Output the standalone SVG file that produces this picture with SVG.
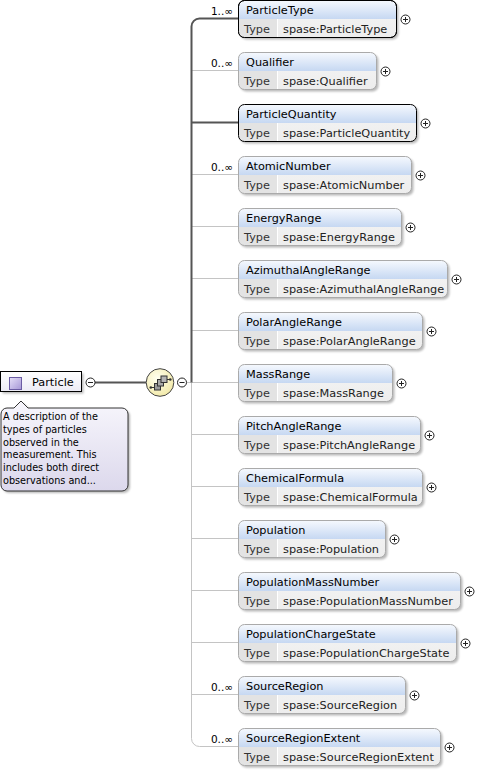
<svg xmlns="http://www.w3.org/2000/svg" xmlns:xlink="http://www.w3.org/1999/xlink" width="479" height="772" viewBox="0 0 479 772">
<style>
text{font-family:"DejaVu Sans","Liberation Sans",sans-serif;}
.nm{font-size:11.3px;fill:#000;}
.tp{font-size:11.3px;fill:#333;}
.val{font-size:11.3px;fill:#222;}
.card{font-size:10.5px;fill:#000;text-anchor:end;}
.tip{font-size:9.7px;fill:#000;}
.box{fill:url(#boxg);stroke-width:1;}
.req{stroke:#000;}
.opt{stroke:#aaa;}
.shadow{fill:#000;opacity:.28;filter:url(#blur);}
.tcell{fill:#e3e3e3;}
.div{stroke:#fff;stroke-width:1;}
.pm{fill:#fff;stroke:#222;stroke-width:1;}
.pml{stroke:#222;stroke-width:1;}
.thick{fill:none;stroke:#555;stroke-width:2;}
.thin{fill:none;stroke:#c4c4c4;stroke-width:1;}
</style>
<defs>
<linearGradient id="boxg" x1="0" y1="0" x2="0" y2="1">
<stop offset="0" stop-color="#f6f9fe"/>
<stop offset="0.5" stop-color="#c6d8f2"/>
<stop offset="0.5" stop-color="#f1f1f1"/>
<stop offset="1" stop-color="#ededed"/>
</linearGradient>
<linearGradient id="tipg" x1="0" y1="0" x2="0" y2="1">
<stop offset="0" stop-color="#f7f6fc"/>
<stop offset="1" stop-color="#dcd8ec"/>
</linearGradient>
<linearGradient id="partg" x1="0" y1="0" x2="0" y2="1">
<stop offset="0" stop-color="#ffffff"/>
<stop offset="1" stop-color="#ecebf5"/>
</linearGradient>
<linearGradient id="icong" x1="0" y1="0" x2="1" y2="1">
<stop offset="0" stop-color="#e6e0f8"/>
<stop offset="1" stop-color="#a596d6"/>
</linearGradient>
<radialGradient id="seqg" cx="0.4" cy="0.35" r="0.7">
<stop offset="0" stop-color="#fffff0"/>
<stop offset="1" stop-color="#f2e9a6"/>
</radialGradient>
<filter id="blur" x="-10%" y="-10%" width="130%" height="140%"><feGaussianBlur stdDeviation="1"/></filter>
<path id="typecell" class="tcell" d="M0.5,19 H39.5 V37.5 H6.5 A6,6 0 0 1 0.5,31.5 Z"/>
<g id="plus"><circle class="pm" cx="0" cy="0" r="4.5"/><path class="pml" d="M-2.5,0 H2.5 M0,-2.5 V2.5"/></g>
<g id="minus"><circle class="pm" cx="0" cy="0" r="4.5"/><path class="pml" d="M-2.5,0 H2.5"/></g>
</defs>

<g id="connectors">
<path class="thin" d="M191.5,382.5 V738.5 A8,8 0 0 0 199.5,746.5 H238"/>
<path class="thin" d="M191.5,70.5 H238 M191.5,174.5 H238 M191.5,226.5 H238 M191.5,278.5 H238 M191.5,330.5 H238 M191.5,382.5 H238 M191.5,434.5 H238 M191.5,486.5 H238 M191.5,538.5 H238 M191.5,590.5 H238 M191.5,642.5 H238 M191.5,694.5 H238"/>
<path class="thin" d="M186.5,382.5 H191.5"/>
<path class="thick" d="M238,18.5 H199.5 A8,8 0 0 0 191.5,26.5 V382.5"/>
<path class="thick" d="M191.5,122.5 H238"/>
<path class="thick" d="M95,382.5 H146"/>
<text class="card" x="233" y="15">1..∞</text>
<text class="card" x="233" y="67">0..∞</text>
<text class="card" x="233" y="171">0..∞</text>
<text class="card" x="233" y="691">0..∞</text>
<text class="card" x="233" y="743">0..∞</text>
</g>

<g id="particle">
<rect class="shadow" x="2.5" y="373.5" width="81" height="20"/>
<rect x="0.5" y="371.5" width="81" height="20" fill="url(#partg)" stroke="#000"/>
<rect x="9.5" y="377.5" width="12" height="12" fill="url(#icong)" stroke="#6b5ca3"/>
<text class="nm" x="32" y="386">Particle</text>
<use xlink:href="#minus" x="90.5" y="382.5"/>
</g>

<g id="particle-doc">
<path class="shadow" d="M9,410 H16 L23,403 L30,410 H124 A6,6 0 0 1 130,416 V487 A6,6 0 0 1 124,493 H9 A6,6 0 0 1 3,487 V416 A6,6 0 0 1 9,410 Z"/>
<path d="M7,408 H14 L21,401 L28,408 H122 A6,6 0 0 1 128,414 V485 A6,6 0 0 1 122,491 H7 A6,6 0 0 1 1,485 V414 A6,6 0 0 1 7,408 Z" fill="url(#tipg)" stroke="#333"/>
<text class="tip" x="3" y="420">A description of the</text>
<text class="tip" x="3" y="432.8">types of particles</text>
<text class="tip" x="3" y="445.6">observed in the</text>
<text class="tip" x="3" y="458.4">measurement. This</text>
<text class="tip" x="3" y="471.2">includes both direct</text>
<text class="tip" x="3" y="484">observations and...</text>
</g>

<g id="sequence">
<circle cx="160" cy="382.5" r="13.8" fill="url(#seqg)" stroke="#444" stroke-width="1"/>
<path d="M150.5,387.5 H155 M167,379.5 H170.5" stroke="#333" stroke-width="1.2" fill="none"/>
<circle cx="150.8" cy="387.5" r="1.3" fill="#333"/>
<circle cx="170.3" cy="379.5" r="1.3" fill="#333"/>
<rect x="154.5" y="383.5" width="6" height="6.5" fill="#9a9a9a" stroke="#333"/>
<rect x="157.5" y="379.5" width="6" height="6.5" fill="#a8a8a8" stroke="#333"/>
<rect x="161" y="376" width="6" height="6.5" fill="#b4b4b4" stroke="#333"/>
<use xlink:href="#minus" x="182" y="382.5"/>
</g>

<g id="n-ParticleType" transform="translate(238,0)">
<rect class="shadow" x="2.5" y="2.5" width="158" height="37" rx="6"/>
<rect class="box req" x="0.5" y="0.5" width="158" height="37" rx="6"/>
<use xlink:href="#typecell"/><line class="div" x1="39.5" y1="19" x2="39.5" y2="37"/>
<rect class="req" x="0.5" y="0.5" width="158" height="37" rx="6" fill="none"/>
<text class="nm" x="8" y="14">ParticleType</text><text class="tp" x="6" y="33">Type</text><text class="val" x="45" y="33">spase:ParticleType</text>
<use xlink:href="#plus" x="167.5" y="19.5"/>
</g>

<g id="n-Qualifier" transform="translate(238,52)">
<rect class="shadow" x="2.5" y="2.5" width="138" height="37" rx="6"/>
<rect class="box" x="0.5" y="0.5" width="138" height="37" rx="6" stroke="none"/>
<use xlink:href="#typecell"/><line class="div" x1="39.5" y1="19" x2="39.5" y2="37"/>
<rect class="opt" x="0.5" y="0.5" width="138" height="37" rx="6" fill="none"/>
<text class="nm" x="8" y="14">Qualifier</text><text class="tp" x="6" y="33">Type</text><text class="val" x="45" y="33">spase:Qualifier</text>
<use xlink:href="#plus" x="147.5" y="19.5"/>
</g>

<g id="n-ParticleQuantity" transform="translate(238,104)">
<rect class="shadow" x="2.5" y="2.5" width="178" height="37" rx="6"/>
<rect class="box" x="0.5" y="0.5" width="178" height="37" rx="6" stroke="none"/>
<use xlink:href="#typecell"/><line class="div" x1="39.5" y1="19" x2="39.5" y2="37"/>
<rect class="req" x="0.5" y="0.5" width="178" height="37" rx="6" fill="none"/>
<text class="nm" x="8" y="14">ParticleQuantity</text><text class="tp" x="6" y="33">Type</text><text class="val" x="45" y="33">spase:ParticleQuantity</text>
<use xlink:href="#plus" x="187.5" y="19.5"/>
</g>

<g id="n-AtomicNumber" transform="translate(238,156)">
<rect class="shadow" x="2.5" y="2.5" width="173" height="37" rx="6"/>
<rect class="box" x="0.5" y="0.5" width="173" height="37" rx="6" stroke="none"/>
<use xlink:href="#typecell"/><line class="div" x1="39.5" y1="19" x2="39.5" y2="37"/>
<rect class="opt" x="0.5" y="0.5" width="173" height="37" rx="6" fill="none"/>
<text class="nm" x="8" y="14">AtomicNumber</text><text class="tp" x="6" y="33">Type</text><text class="val" x="45" y="33">spase:AtomicNumber</text>
<use xlink:href="#plus" x="182.5" y="19.5"/>
</g>

<g id="n-EnergyRange" transform="translate(238,208)">
<rect class="shadow" x="2.5" y="2.5" width="163" height="37" rx="6"/>
<rect class="box" x="0.5" y="0.5" width="163" height="37" rx="6" stroke="none"/>
<use xlink:href="#typecell"/><line class="div" x1="39.5" y1="19" x2="39.5" y2="37"/>
<rect class="opt" x="0.5" y="0.5" width="163" height="37" rx="6" fill="none"/>
<text class="nm" x="8" y="14">EnergyRange</text><text class="tp" x="6" y="33">Type</text><text class="val" x="45" y="33">spase:EnergyRange</text>
<use xlink:href="#plus" x="172.5" y="19.5"/>
</g>

<g id="n-AzimuthalAngleRange" transform="translate(238,260)">
<rect class="shadow" x="2.5" y="2.5" width="209" height="37" rx="6"/>
<rect class="box" x="0.5" y="0.5" width="209" height="37" rx="6" stroke="none"/>
<use xlink:href="#typecell"/><line class="div" x1="39.5" y1="19" x2="39.5" y2="37"/>
<rect class="opt" x="0.5" y="0.5" width="209" height="37" rx="6" fill="none"/>
<text class="nm" x="8" y="14">AzimuthalAngleRange</text><text class="tp" x="6" y="33">Type</text><text class="val" x="45" y="33">spase:AzimuthalAngleRange</text>
<use xlink:href="#plus" x="218.5" y="19.5"/>
</g>

<g id="n-PolarAngleRange" transform="translate(238,312)">
<rect class="shadow" x="2.5" y="2.5" width="184" height="37" rx="6"/>
<rect class="box" x="0.5" y="0.5" width="184" height="37" rx="6" stroke="none"/>
<use xlink:href="#typecell"/><line class="div" x1="39.5" y1="19" x2="39.5" y2="37"/>
<rect class="opt" x="0.5" y="0.5" width="184" height="37" rx="6" fill="none"/>
<text class="nm" x="8" y="14">PolarAngleRange</text><text class="tp" x="6" y="33">Type</text><text class="val" x="45" y="33">spase:PolarAngleRange</text>
<use xlink:href="#plus" x="193.5" y="19.5"/>
</g>

<g id="n-MassRange" transform="translate(238,364)">
<rect class="shadow" x="2.5" y="2.5" width="154" height="37" rx="6"/>
<rect class="box" x="0.5" y="0.5" width="154" height="37" rx="6" stroke="none"/>
<use xlink:href="#typecell"/><line class="div" x1="39.5" y1="19" x2="39.5" y2="37"/>
<rect class="opt" x="0.5" y="0.5" width="154" height="37" rx="6" fill="none"/>
<text class="nm" x="8" y="14">MassRange</text><text class="tp" x="6" y="33">Type</text><text class="val" x="45" y="33">spase:MassRange</text>
<use xlink:href="#plus" x="163.5" y="19.5"/>
</g>

<g id="n-PitchAngleRange" transform="translate(238,416)">
<rect class="shadow" x="2.5" y="2.5" width="182" height="37" rx="6"/>
<rect class="box" x="0.5" y="0.5" width="182" height="37" rx="6" stroke="none"/>
<use xlink:href="#typecell"/><line class="div" x1="39.5" y1="19" x2="39.5" y2="37"/>
<rect class="opt" x="0.5" y="0.5" width="182" height="37" rx="6" fill="none"/>
<text class="nm" x="8" y="14">PitchAngleRange</text><text class="tp" x="6" y="33">Type</text><text class="val" x="45" y="33">spase:PitchAngleRange</text>
<use xlink:href="#plus" x="191.5" y="19.5"/>
</g>

<g id="n-ChemicalFormula" transform="translate(238,468)">
<rect class="shadow" x="2.5" y="2.5" width="184" height="37" rx="6"/>
<rect class="box" x="0.5" y="0.5" width="184" height="37" rx="6" stroke="none"/>
<use xlink:href="#typecell"/><line class="div" x1="39.5" y1="19" x2="39.5" y2="37"/>
<rect class="opt" x="0.5" y="0.5" width="184" height="37" rx="6" fill="none"/>
<text class="nm" x="8" y="14">ChemicalFormula</text><text class="tp" x="6" y="33">Type</text><text class="val" x="45" y="33">spase:ChemicalFormula</text>
<use xlink:href="#plus" x="193.5" y="19.5"/>
</g>

<g id="n-Population" transform="translate(238,520)">
<rect class="shadow" x="2.5" y="2.5" width="147" height="37" rx="6"/>
<rect class="box" x="0.5" y="0.5" width="147" height="37" rx="6" stroke="none"/>
<use xlink:href="#typecell"/><line class="div" x1="39.5" y1="19" x2="39.5" y2="37"/>
<rect class="opt" x="0.5" y="0.5" width="147" height="37" rx="6" fill="none"/>
<text class="nm" x="8" y="14">Population</text><text class="tp" x="6" y="33">Type</text><text class="val" x="45" y="33">spase:Population</text>
<use xlink:href="#plus" x="156.5" y="19.5"/>
</g>

<g id="n-PopulationMassNumber" transform="translate(238,572)">
<rect class="shadow" x="2.5" y="2.5" width="222" height="37" rx="6"/>
<rect class="box" x="0.5" y="0.5" width="222" height="37" rx="6" stroke="none"/>
<use xlink:href="#typecell"/><line class="div" x1="39.5" y1="19" x2="39.5" y2="37"/>
<rect class="opt" x="0.5" y="0.5" width="222" height="37" rx="6" fill="none"/>
<text class="nm" x="8" y="14">PopulationMassNumber</text><text class="tp" x="6" y="33">Type</text><text class="val" x="45" y="33">spase:PopulationMassNumber</text>
<use xlink:href="#plus" x="231.5" y="19.5"/>
</g>

<g id="n-PopulationChargeState" transform="translate(238,624)">
<rect class="shadow" x="2.5" y="2.5" width="218" height="37" rx="6"/>
<rect class="box" x="0.5" y="0.5" width="218" height="37" rx="6" stroke="none"/>
<use xlink:href="#typecell"/><line class="div" x1="39.5" y1="19" x2="39.5" y2="37"/>
<rect class="opt" x="0.5" y="0.5" width="218" height="37" rx="6" fill="none"/>
<text class="nm" x="8" y="14">PopulationChargeState</text><text class="tp" x="6" y="33">Type</text><text class="val" x="45" y="33">spase:PopulationChargeState</text>
<use xlink:href="#plus" x="227.5" y="19.5"/>
</g>

<g id="n-SourceRegion" transform="translate(238,676)">
<rect class="shadow" x="2.5" y="2.5" width="167" height="37" rx="6"/>
<rect class="box" x="0.5" y="0.5" width="167" height="37" rx="6" stroke="none"/>
<use xlink:href="#typecell"/><line class="div" x1="39.5" y1="19" x2="39.5" y2="37"/>
<rect class="opt" x="0.5" y="0.5" width="167" height="37" rx="6" fill="none"/>
<text class="nm" x="8" y="14">SourceRegion</text><text class="tp" x="6" y="33">Type</text><text class="val" x="45" y="33">spase:SourceRegion</text>
<use xlink:href="#plus" x="176.5" y="19.5"/>
</g>

<g id="n-SourceRegionExtent" transform="translate(238,728)">
<rect class="shadow" x="2.5" y="2.5" width="202" height="37" rx="6"/>
<rect class="box" x="0.5" y="0.5" width="202" height="37" rx="6" stroke="none"/>
<use xlink:href="#typecell"/><line class="div" x1="39.5" y1="19" x2="39.5" y2="37"/>
<rect class="opt" x="0.5" y="0.5" width="202" height="37" rx="6" fill="none"/>
<text class="nm" x="8" y="14">SourceRegionExtent</text><text class="tp" x="6" y="33">Type</text><text class="val" x="45" y="33">spase:SourceRegionExtent</text>
<use xlink:href="#plus" x="211.5" y="19.5"/>
</g>
</svg>
